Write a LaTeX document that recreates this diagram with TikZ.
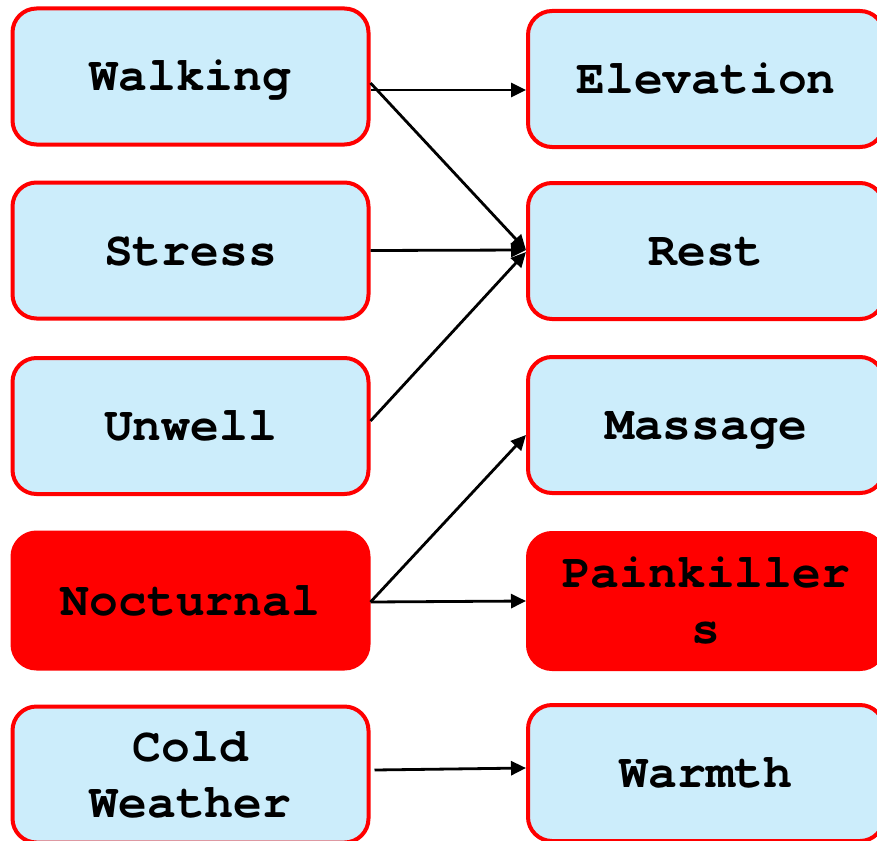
\documentclass[tikz,border=0pt]{standalone}
\usepackage{fontspec}
\setmonofont{TeX Gyre Cursor}
\usetikzlibrary{calc,arrows.meta}
\definecolor{boxblue}{RGB}{204,237,251}
\definecolor{boxred}{RGB}{255,0,0}
\tikzset{
  item/.style={draw=boxred, line width=4pt, rounded corners=24pt,
    minimum width=356pt, minimum height=136pt, inner sep=0pt,
    align=center, font=\fontsize{48pt}{56pt}\selectfont\ttfamily\bfseries},
  oneline/.style={text height=29pt, text depth=0pt},
  calm/.style={item, fill=boxblue},
  alert/.style={item, fill=boxred},
  link/.style={draw=black, line width=2.8pt, -{Triangle[length=15pt,width=14pt]}}
}
\begin{document}
\begin{tikzpicture}[x=1pt, y=-1pt]
\useasboundingbox (0,0) rectangle (877,840);

% triggers
\node[calm,oneline]  (walk)   at (190.5, 76.5)  {Walking};
\node[calm,oneline]  (stress) at (190.5, 250.5) {Stress};
\node[calm,oneline]  (unwell) at (190.5, 426)   {Unwell};
\node[alert,oneline] (noct)   at (190.5, 600.5) {Nocturnal};
\node[calm]          (cold)   at (190.5, 774.5) {Cold\\Weather};

% remedies
\node[calm,oneline]  (elev) at (706, 79)    {Elevation};
\node[calm,oneline]  (rest) at (706, 251)   {Rest};
\node[calm,oneline]  (mass) at (706, 425)   {Massage};
\node[alert]         (pain) at (706, 601)   {Painkiller\\s};
\node[calm,oneline]  (warm) at (706, 773)   {Warmth};

% links
\draw[link] ($(walk.east)+(0,13.5)$)   -- ($(elev.west)+(0,11)$);
\draw[link] ($(walk.east)+(0,6.5)$)    -- ($(rest.west)+(0,-1)$);
\draw[link] (stress.east)              -- ($(rest.west)+(0,-1)$);
\draw[link] ($(unwell.east)+(0,-5)$)   -- ($(rest.west)+(0,1)$);
\draw[link] ($(noct.east)+(0,1.5)$)    -- ($(mass.west)+(0,10)$);
\draw[link] ($(noct.east)+(0,1.5)$)    -- (pain.west);
\draw[link] ($(cold.east)+(4,-4.5)$)   -- ($(warm.west)+(0,-5)$);
\end{tikzpicture}
\end{document}
